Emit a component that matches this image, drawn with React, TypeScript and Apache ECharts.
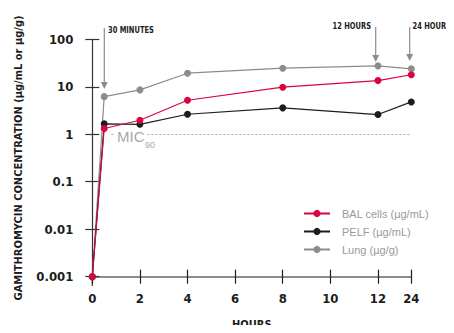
import React, { useEffect, useRef } from "react";
import * as echarts from "echarts";

const hours = [0, 0.5, 2, 4, 8, 12, 24];
const balCells = [0.001, 1.32, 1.97, 5.2, 9.8, 13.5, 17.9];
const pelf = [0.001, 1.66, 1.62, 2.64, 3.6, 2.6, 4.8];
const lung = [0.001, 6.2, 8.6, 19.3, 24.6, 27.6, 23.9];
const xTickHours = [0, 2, 4, 6, 8, 10, 12, 24];
const yTicks = [0.001, 0.01, 0.1, 1, 10, 100];
const seriesNames = ["BAL cells (µg/mL)", "PELF (µg/mL)", "Lung (µg/g)"];
const micValue = 1;

// broken x scale: after 12 h the axis is compressed
const xPos = (h: number) => (h <= 12 ? h : 12 + ((h - 12) * 1.4) / 12);
const xMax = xPos(24);

const COND = "'Liberation Sans Narrow', 'DejaVu Sans Condensed', sans-serif";
const RED = "#d8053f";
const BLACK = "#1c1c1c";
const GRAY = "#8c8c8c";

export default function App() {
  const ref = useRef<HTMLDivElement>(null);
  useEffect(() => {
    if (!ref.current) return;
    const chart = echarts.init(ref.current, undefined, { renderer: "svg" });
    const xCustom = xTickHours.map(xPos);
    const fmtX = (v: number) => {
      const idx = xCustom.findIndex((c) => Math.abs(c - v) < 1e-6);
      return idx >= 0 ? String(xTickHours[idx]) : "";
    };
    const fmtY = (v: number) => {
      const t = yTicks.find((y) => Math.abs(Math.log10(y) - Math.log10(v)) < 1e-6);
      return t !== undefined ? String(t) : "";
    };
    const baseX = {
      type: "value" as const,
      min: 0,
      max: xMax,
      position: "bottom" as const,
      splitLine: { show: false },
    };
    const baseY = {
      type: "log" as const,
      logBase: 10,
      min: 0.001,
      max: 100,
      position: "left" as const,
      splitLine: { show: false },
    };
    const mk = (name: string, data: number[], color: string, z: number) => ({
      name,
      type: "line" as const,
      data: hours.map((h, i) => [xPos(h), data[i]]),
      symbol: "circle",
      symbolSize: 7,
      z,
      lineStyle: { color, width: 1.2 },
      itemStyle: { color },
    });
    const arrow = (x: number, y0: number, y1: number) => [
      { type: "line", shape: { x1: x, y1: y0, x2: x, y2: y1 - 5 }, style: { stroke: GRAY, lineWidth: 1.2 }, silent: true },
      {
        type: "polygon",
        shape: { points: [[x - 3.5, y1 - 7], [x + 3.5, y1 - 7], [x, y1]] },
        style: { fill: GRAY },
        silent: true,
      },
    ];
    const note = (text: string, x: number, y: number, align: string) => ({
      type: "text",
      x,
      y,
      scaleX: 0.83,
      silent: true,
      style: { text, x: 0, y: 0, align, verticalAlign: "middle", fill: BLACK, font: `bold 9px ${COND}` },
    });
    chart.setOption({
      animation: false,
      grid: { left: 92.3, right: 42.7, top: 39.3, bottom: 56.3, outerBoundsMode: "none", containLabel: false },
      xAxis: [
        {
          ...baseX,
          name: "HOURS",
          nameLocation: "middle",
          nameGap: 42,
          nameTextStyle: { fontFamily: COND, fontWeight: "bold", fontSize: 11, color: BLACK },
          axisLine: { show: true, lineStyle: { color: GRAY, width: 2 } },
          axisTick: { show: true, length: 7, customValues: xCustom, lineStyle: { color: BLACK, width: 1.2 } },
          axisLabel: {
            customValues: xCustom,
            formatter: fmtX,
            margin: 15,
            fontFamily: COND,
            fontWeight: "bold",
            fontSize: 13,
            color: BLACK,
          },
        },
        {
          ...baseX,
          axisLine: { show: false },
          axisTick: { show: true, inside: true, length: 7, customValues: xCustom, lineStyle: { color: BLACK, width: 1.2 } },
          axisLabel: { show: false },
        },
      ],
      yAxis: [
        {
          ...baseY,
          name: "GAMITHROMYCIN CONCENTRATION (µg/mL or µg/g)",
          nameLocation: "middle",
          nameGap: 68,
          nameTextStyle: { fontFamily: COND, fontWeight: "bold", fontSize: 11, color: BLACK },
          axisLine: { show: true, lineStyle: { color: "#333", width: 1.2 } },
          axisTick: { show: true, length: 7, lineStyle: { color: "#333", width: 1.2 } },
          axisLabel: {
            formatter: fmtY,
            margin: 19,
            fontFamily: COND,
            fontWeight: "bold",
            fontSize: 13,
            color: BLACK,
          },
        },
        {
          ...baseY,
          axisLine: { show: false },
          axisTick: { show: true, inside: true, length: 7, lineStyle: { color: "#333", width: 1.2 } },
          axisLabel: { show: false },
        },
      ],
      legend: {
        data: seriesNames,
        orient: "vertical",
        left: 298,
        top: 203,
        itemWidth: 26,
        itemHeight: 9,
        itemGap: 7,
        textStyle: { color: "#9a9a9a", fontSize: 11, fontFamily: "'Liberation Sans', Arial, sans-serif", padding: [0, 0, 0, 7] },
      },
      series: [
        {
          ...mk(seriesNames[2], lung, GRAY, 2),
          markLine: {
            silent: true,
            symbol: "none",
            label: { show: false },
            lineStyle: { color: "#a8a8a8", type: [2, 2], width: 1 },
            data: [[{ coord: [0.8, micValue] }, { coord: [xMax, micValue] }]],
          },
        },
        mk(seriesNames[1], pelf, BLACK, 3),
        mk(seriesNames[0], balCells, RED, 4),
      ],
      graphic: [
        { type: "line", shape: { x1: 92.3, y1: 277, x2: 92.3, y2: 286 }, style: { stroke: "#333", lineWidth: 1.2 }, silent: true },
        {
          type: "text",
          left: 115,
          top: 129,
          z: 10,
          style: { text: "MIC", fill: "#a8a8a8", font: "15px 'Liberation Sans', Arial, sans-serif", backgroundColor: "#fff", padding: [0, 2, 0, 2] },
        },
        {
          type: "text",
          left: 145,
          top: 140,
          z: 10,
          style: { text: "90", fill: "#a8a8a8", font: "9px 'Liberation Sans', Arial, sans-serif", backgroundColor: "#fff" },
        },
        ...arrow(104.3, 28, 89),
        ...arrow(375.7, 27, 62),
        ...arrow(409.7, 27, 61),
        note("30 MINUTES", 108, 29.5, "left"),
        note("12 HOURS", 371, 26, "right"),
        note("24 HOURS", 412.5, 26, "left"),
      ],
    });
    return () => chart.dispose();
  }, []);
  return <div ref={ref} style={{ width: 454, height: 333, margin: -8 }} />;
}
